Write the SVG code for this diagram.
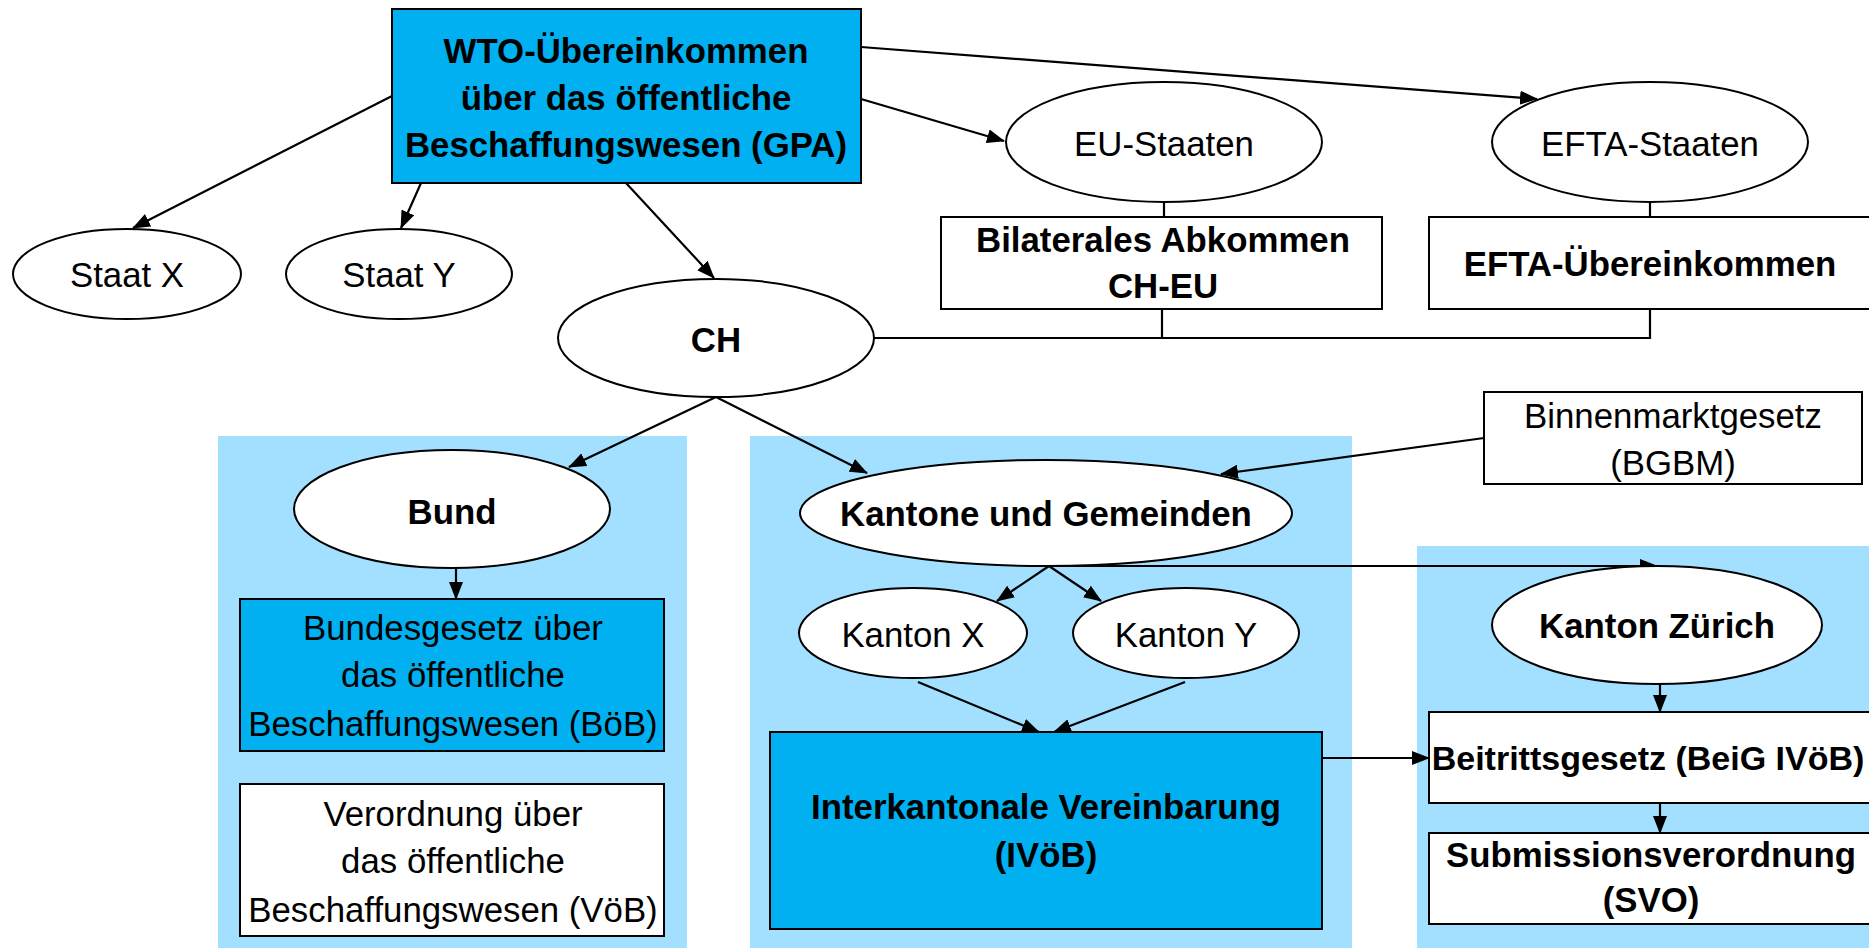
<svg xmlns="http://www.w3.org/2000/svg" width="1869" height="948" viewBox="0 0 1869 948">
<defs>
<style>
.t{font-family:"Liberation Sans",Arial,sans-serif;font-size:34.8px;fill:#000;text-anchor:middle}
.b{font-weight:bold}
.n{fill:#fff;stroke:#000;stroke-width:2}
.f{fill:#00B0F0;stroke:#000;stroke-width:2}
.p{fill:#A3E0FF}
.c{fill:none;stroke:#000;stroke-width:2.2}
.a{marker-end:url(#arr)}
</style>
<marker id="arr" markerUnits="userSpaceOnUse" markerWidth="18" markerHeight="14" refX="17" refY="7" orient="auto">
<path d="M0,0 L18,7 L0,14 Z" fill="#000"/>
</marker>
</defs>
<rect width="1869" height="948" fill="#fff"/>
<g id="panels">
<rect class="p" x="218" y="436" width="469" height="512"/>
<rect class="p" x="750" y="436" width="602" height="512"/>
<rect class="p" x="1417" y="546" width="452" height="402"/>
</g>
<g id="connectors">
<line class="c a" x1="392" y1="96" x2="133" y2="228"/>
<line class="c a" x1="421" y1="183" x2="401" y2="228"/>
<line class="c a" x1="626" y1="183" x2="714" y2="278"/>
<line class="c a" x1="861" y1="99" x2="1004" y2="141"/>
<line class="c a" x1="861" y1="47" x2="1537" y2="99"/>
<line class="c" x1="1164" y1="202" x2="1164" y2="217"/>
<line class="c" x1="1650" y1="202" x2="1650" y2="217"/>
<polyline class="c" points="874,338 1650,338 1650,309"/>
<line class="c" x1="1162" y1="309" x2="1162" y2="338"/>
<line class="c a" x1="716" y1="397" x2="569" y2="467"/>
<line class="c a" x1="716" y1="397" x2="867" y2="473"/>
<line class="c a" x1="1484" y1="438" x2="1221" y2="474"/>
<line class="c a" x1="456" y1="568" x2="456" y2="599"/>
<line class="c a" x1="1049" y1="566" x2="1657" y2="566"/>
<line class="c a" x1="1049" y1="566" x2="997" y2="601"/>
<line class="c a" x1="1049" y1="566" x2="1101" y2="601"/>
<line class="c a" x1="918" y1="682" x2="1039" y2="732"/>
<line class="c a" x1="1185" y1="682" x2="1054" y2="732"/>
<line class="c a" x1="1322" y1="758" x2="1429" y2="758"/>
<line class="c a" x1="1660" y1="684" x2="1660" y2="712"/>
<line class="c a" x1="1660" y1="803" x2="1660" y2="833"/>
</g>
<g id="wto">
<rect class="f" x="392" y="9" width="469" height="174"/>
<text class="t b" x="626" y="63">WTO-Übereinkommen</text>
<text class="t b" x="626" y="110">über das öffentliche</text>
<text class="t b" x="626" y="157">Beschaffungswesen (GPA)</text>
</g>
<g id="staatx"><ellipse class="n" cx="127" cy="274" rx="114" ry="45"/><text class="t" x="127" y="287">Staat X</text></g>
<g id="staaty"><ellipse class="n" cx="399" cy="274" rx="113" ry="45"/><text class="t" x="399" y="287">Staat Y</text></g>
<g id="ch"><ellipse class="n" cx="716" cy="338" rx="158" ry="59"/><text class="t b" x="716" y="352">CH</text></g>
<g id="eu"><ellipse class="n" cx="1164" cy="142" rx="158" ry="60"/><text class="t" x="1164" y="156">EU-Staaten</text></g>
<g id="efta"><ellipse class="n" cx="1650" cy="142" rx="158" ry="60"/><text class="t" x="1650" y="156">EFTA-Staaten</text></g>
<g id="bilat">
<rect class="n" x="941" y="217" width="441" height="92"/>
<text class="t b" x="1163" y="252">Bilaterales Abkommen</text>
<text class="t b" x="1163" y="298">CH-EU</text>
</g>
<g id="eftaue">
<rect class="n" x="1429" y="217" width="460" height="92"/>
<text class="t b" x="1650" y="276">EFTA-Übereinkommen</text>
</g>
<g id="bgbm">
<rect class="n" x="1484" y="392" width="378" height="92"/>
<text class="t" x="1673" y="428">Binnenmarktgesetz</text>
<text class="t" x="1673" y="475">(BGBM)</text>
</g>
<g id="bund"><ellipse class="n" cx="452" cy="509" rx="158" ry="59"/><text class="t b" x="452" y="524">Bund</text></g>
<g id="boeb">
<rect class="f" x="240" y="599" width="424" height="152"/>
<text class="t" x="453" y="640">Bundesgesetz über</text>
<text class="t" x="453" y="687">das öffentliche</text>
<text class="t" x="453" y="736">Beschaffungswesen (BöB)</text>
</g>
<g id="voeb">
<rect class="n" x="240" y="784" width="424" height="152"/>
<text class="t" x="453" y="826">Verordnung über</text>
<text class="t" x="453" y="873">das öffentliche</text>
<text class="t" x="453" y="922">Beschaffungswesen (VöB)</text>
</g>
<g id="kantone"><ellipse class="n" cx="1046" cy="513" rx="246" ry="53"/><text class="t b" x="1046" y="526">Kantone und Gemeinden</text></g>
<g id="kantonx"><ellipse class="n" cx="913" cy="633" rx="114" ry="45"/><text class="t" x="913" y="647">Kanton X</text></g>
<g id="kantony"><ellipse class="n" cx="1186" cy="633" rx="113" ry="45"/><text class="t" x="1186" y="647">Kanton Y</text></g>
<g id="ivoeb">
<rect class="f" x="770" y="732" width="552" height="197"/>
<text class="t b" x="1046" y="819">Interkantonale Vereinbarung</text>
<text class="t b" x="1046" y="867">(IVöB)</text>
</g>
<g id="zuerich"><ellipse class="n" cx="1657" cy="625" rx="165" ry="59"/><text class="t b" x="1657" y="638">Kanton Zürich</text></g>
<g id="beig">
<rect class="n" x="1429" y="712" width="460" height="91"/>
<text class="t b" x="1648" y="770" style="font-size:34px">Beitrittsgesetz (BeiG IVöB)</text>
</g>
<g id="svo">
<rect class="n" x="1429" y="833" width="460" height="91"/>
<text class="t b" x="1651" y="867">Submissionsverordnung</text>
<text class="t b" x="1651" y="912">(SVO)</text>
</g>
</svg>
